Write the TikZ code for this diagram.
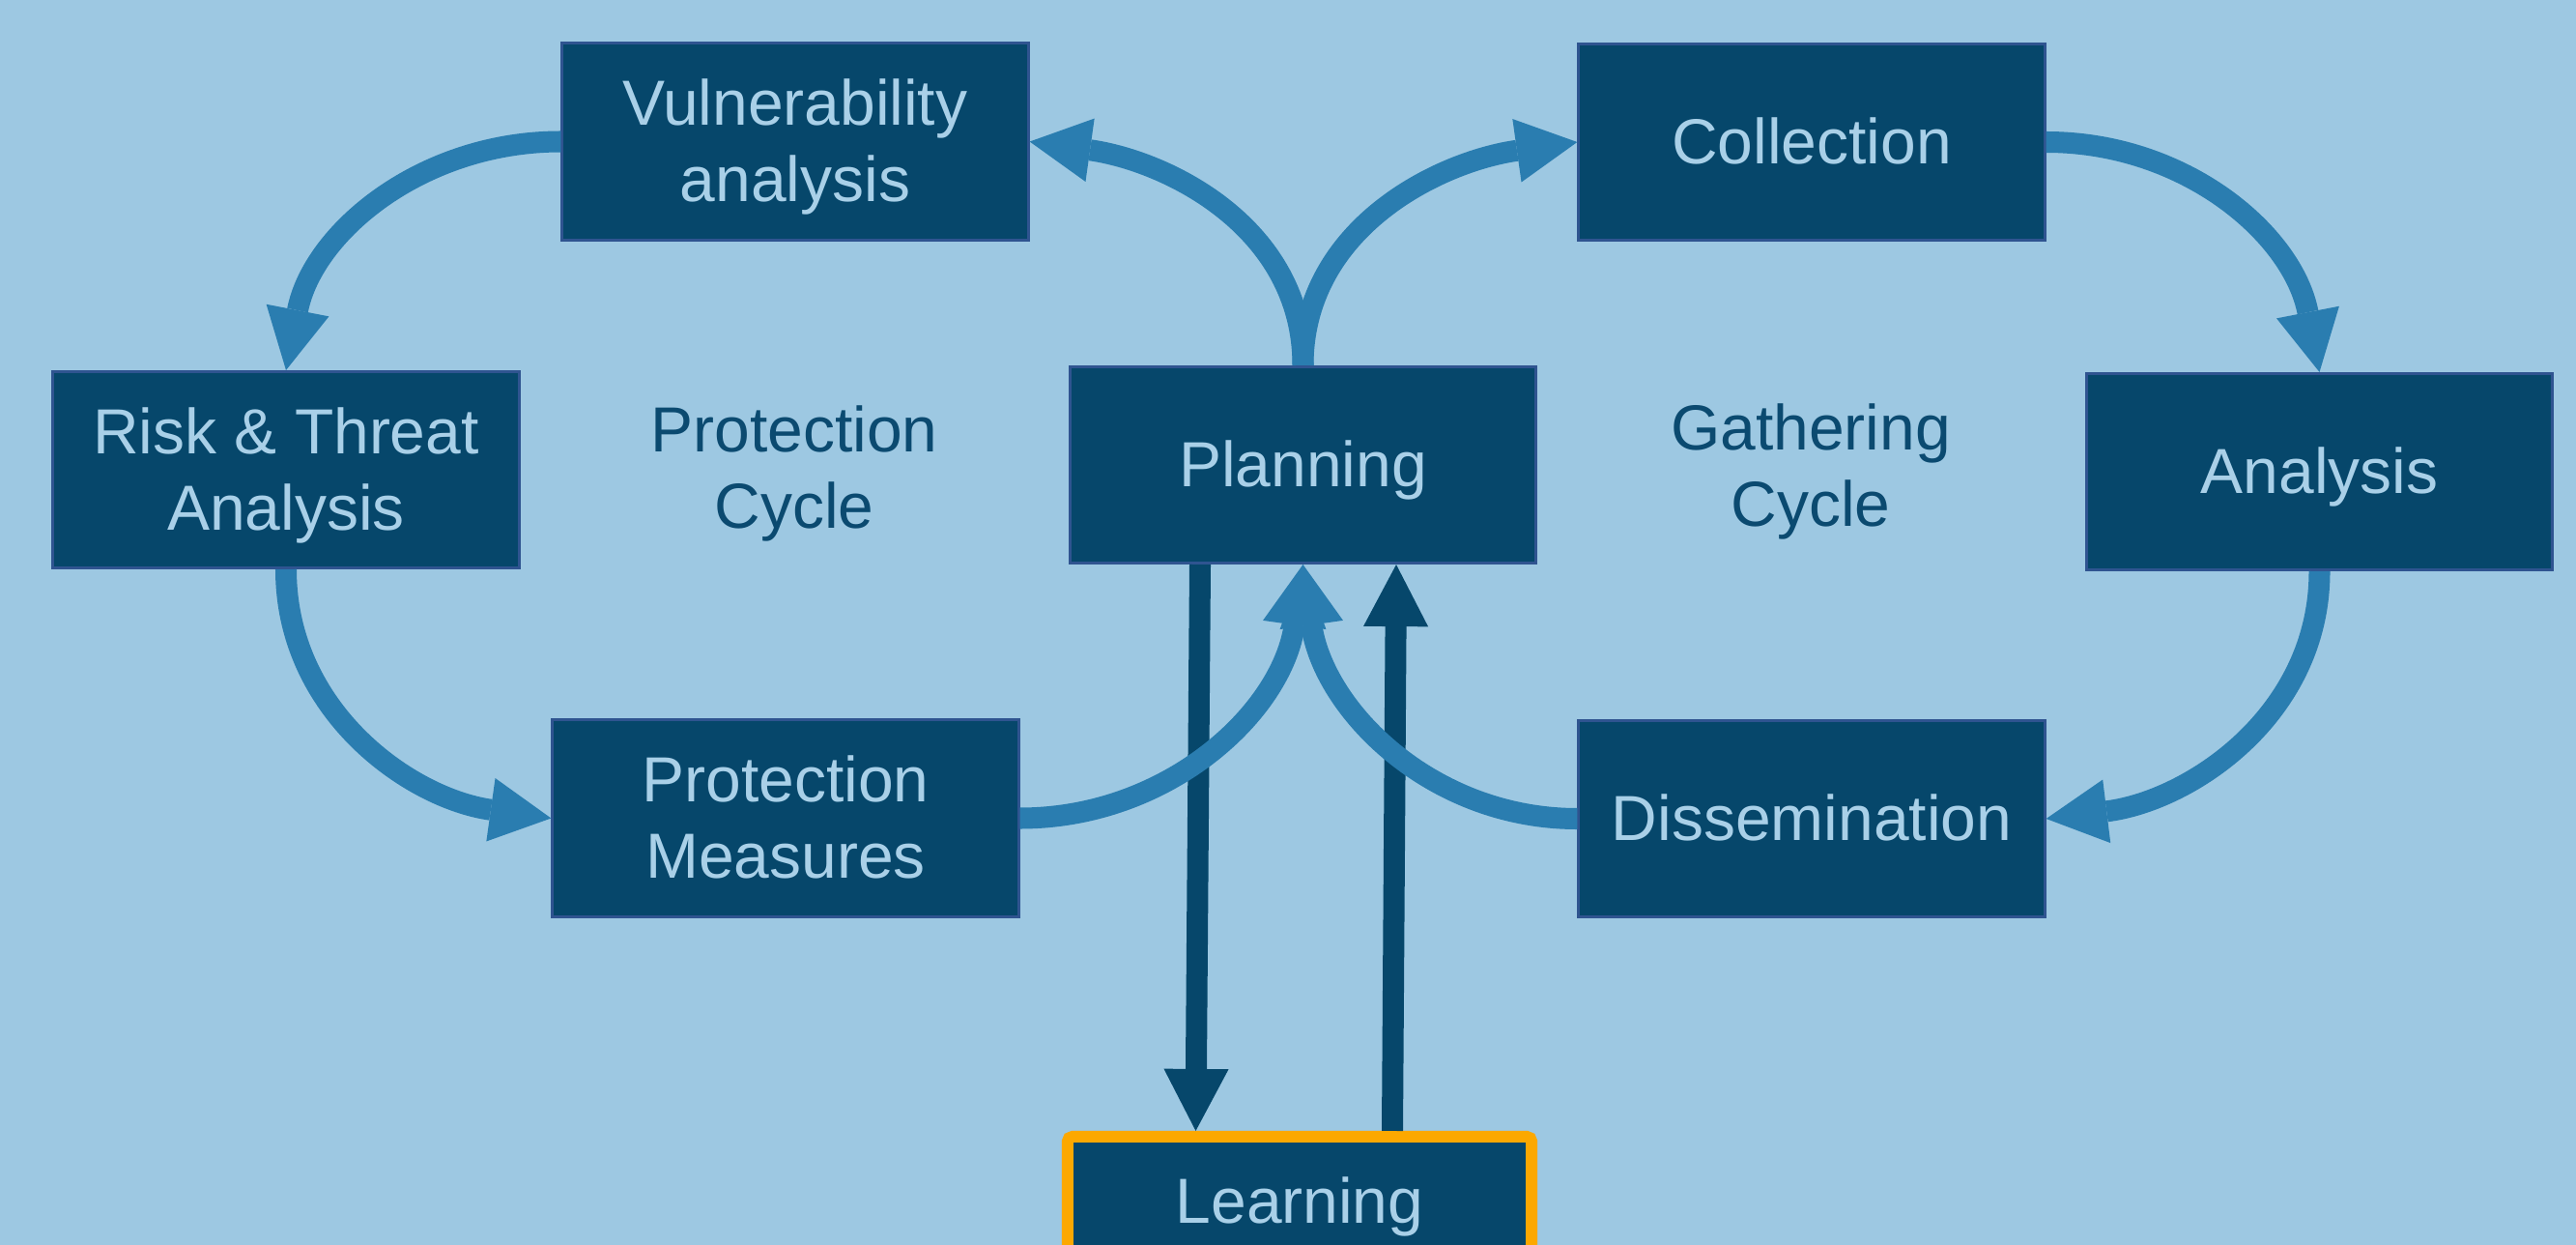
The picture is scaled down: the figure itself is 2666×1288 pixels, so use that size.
\documentclass[tikz,border=0pt]{standalone}
\usepackage{fontspec}
\setmainfont{Liberation Sans}
\usetikzlibrary{arrows.meta,calc}

\definecolor{bg}{HTML}{9DC8E2}
\definecolor{boxfill}{HTML}{06476B}
\definecolor{boxline}{HTML}{2F5490}
\definecolor{boxtext}{HTML}{A9D0E8}
\definecolor{flowblue}{HTML}{2A7DB0}
\definecolor{labeltext}{HTML}{0B4A70}
\definecolor{learnedge}{HTML}{FCA800}

% strut with the ascent/descent of the font, so every line is centred alike
\newcommand{\lnstrut}{\rule[-0.212em]{0pt}{1.117em}}

\begin{document}
\begin{tikzpicture}[x=0.01cm, y=-0.01cm,
  txt/.style={font=\fontsize{18.75pt}{22.5pt}\selectfont, align=center, inner sep=0pt},
  stage/.style={txt, draw=boxline, line width=0.03cm, fill=boxfill, text=boxtext,
    minimum width=4.82cm, minimum height=2.03cm},
  cyclelabel/.style={txt, text=labeltext},
  flow/.style={draw=flowblue, line width=0.22cm,
    -{Triangle[width=0.66cm, length=0.63cm, line width=0pt]}},
  feedback/.style={draw=boxfill, line width=0.22cm,
    -{Triangle[width=0.67cm, length=0.64cm, line width=0pt]}}]

\fill[bg] (0,0) rectangle (2666,1288);
\useasboundingbox (0,0) rectangle (2666,1288);
\clip (0,0) rectangle (2666,1288);

% protection cycle
\node[stage] (vuln) at (823,146.5) {\lnstrut Vulnerability\\\lnstrut analysis};
\node[stage] (risk) at (296,486) {\lnstrut Risk \& Threat\\\lnstrut Analysis};
\node[stage] (meas) at (813,846.5) {\lnstrut Protection\\\lnstrut Measures};
\node[cyclelabel] (pcyc) at (822,484) {\lnstrut Protection\\\lnstrut Cycle};

% centre
\node[stage] (plan) at (1348.5,481) {\lnstrut Planning};

% gathering cycle
\node[stage] (coll) at (1875,147) {\lnstrut Collection};
\node[stage] (anal) at (2400.5,488) {\lnstrut Analysis};
\node[stage] (diss) at (1875,847) {\lnstrut Dissemination};
\node[cyclelabel] (gcyc) at (1874,482) {\lnstrut Gathering\\\lnstrut Cycle};

% learning
\node[txt, draw=learnedge, line width=0.12cm, rounded corners=0.05cm, fill=boxfill,
  text=boxtext, minimum width=4.80cm, minimum height=1.34cm] (learn) at (1345,1243)
  {\lnstrut Learning};

% planning <-> learning (underneath the cycle arrows)
\draw[feedback] ($(plan.south)+(-106.5,0)$) -- ($(learn.north)+(-107.5,0)$);
\draw[feedback] ($(learn.north)+(96,0)$) -- ($(plan.south)+(96.5,0)$);

% cycle arrows
\draw[flow] (plan.north) to[out=90, in=-8] (vuln.east);
\draw[flow] (vuln.west) to[out=180, in=79] (risk.north);
\draw[flow] (risk.south) to[out=-90, in=172] (meas.west);
\draw[flow] (meas.east) to[out=0, in=262] (plan.south);

\draw[flow] (plan.north) to[out=90, in=188] (coll.west);
\draw[flow] (coll.east) to[out=0, in=101] (anal.north);
\draw[flow] (anal.south) to[out=-90, in=7] (diss.east);
\draw[flow] (diss.west) to[out=180, in=278] (plan.south);

\end{tikzpicture}
\end{document}
